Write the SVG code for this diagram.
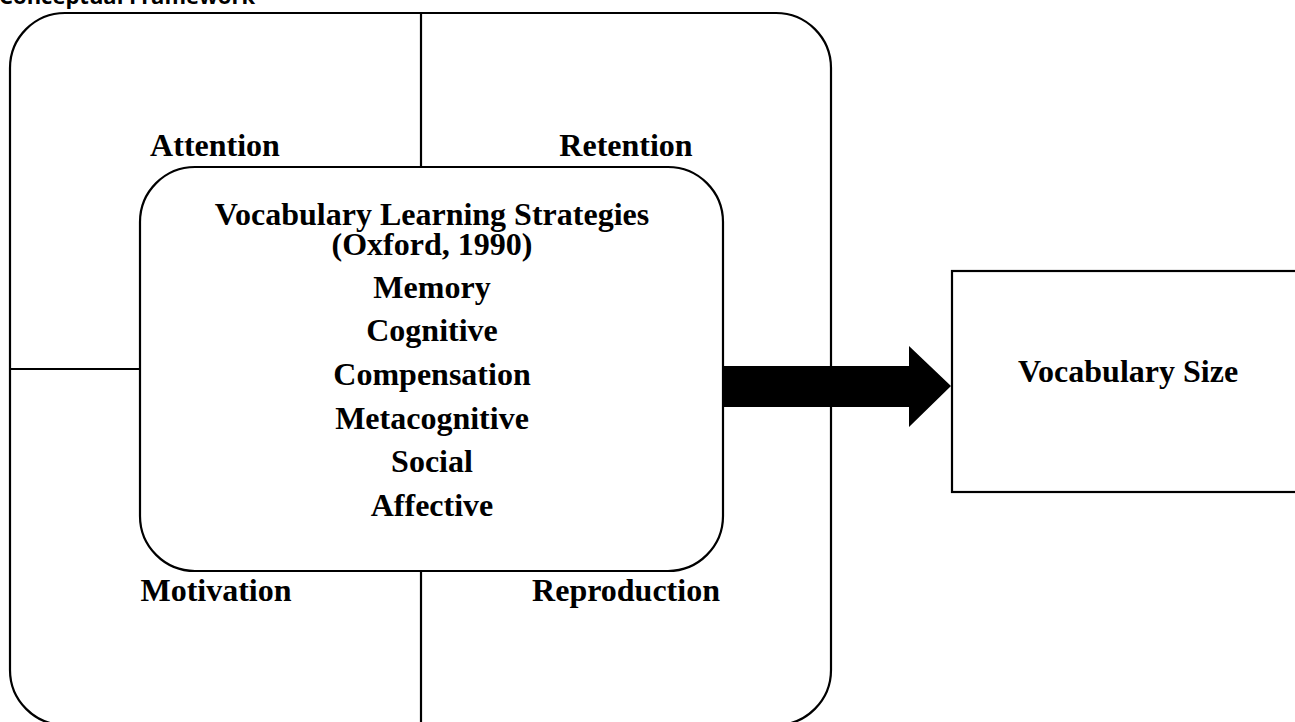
<svg xmlns="http://www.w3.org/2000/svg" width="1295" height="722" viewBox="0 0 1295 722">
<style>
.ln{fill:none;stroke:#000;stroke-width:2.2}
.t{font-family:"Liberation Serif","Times New Roman",serif;font-weight:bold;font-size:32px;fill:#000;text-anchor:middle}
.title{font-family:"Open Sans","Liberation Sans",sans-serif;font-weight:bold;font-size:22px;fill:#000}
</style>
<rect width="1295" height="722" fill="#fff"/>
<text class="title" x="-1" y="4">Conceptual Framework</text>
<g id="outer">
<rect class="ln" x="10" y="13" width="821" height="712" rx="55" ry="55"/>
</g>
<g id="connectors">
<line class="ln" x1="421" y1="13" x2="421" y2="167"/>
<line class="ln" x1="421" y1="571" x2="421" y2="725"/>
<line class="ln" x1="10" y1="369" x2="140" y2="369"/>
<polygon points="724,366 909,366 909,346 951,386 909,427 909,407 724,407" fill="#000"/>
</g>
<g id="labels">
<text class="t" x="215" y="156">Attention</text>
<text class="t" x="626" y="156">Retention</text>
<text class="t" x="216" y="601">Motivation</text>
<text class="t" x="626" y="601">Reproduction</text>
</g>
<g id="strategies">
<rect class="ln" x="140" y="167" width="583" height="404" rx="55" ry="55"/>
<text class="t" x="432" y="225">Vocabulary Learning Strategies</text>
<text class="t" x="432" y="255">(Oxford, 1990)</text>
<text class="t" x="432" y="298">Memory</text>
<text class="t" x="432" y="341">Cognitive</text>
<text class="t" x="432" y="385">Compensation</text>
<text class="t" x="432" y="429">Metacognitive</text>
<text class="t" x="432" y="472">Social</text>
<text class="t" x="432" y="516">Affective</text>
</g>
<g id="vocabsize">
<rect class="ln" x="952" y="271" width="360" height="221"/>
<text class="t" x="1128" y="382">Vocabulary Size</text>
</g>
</svg>
